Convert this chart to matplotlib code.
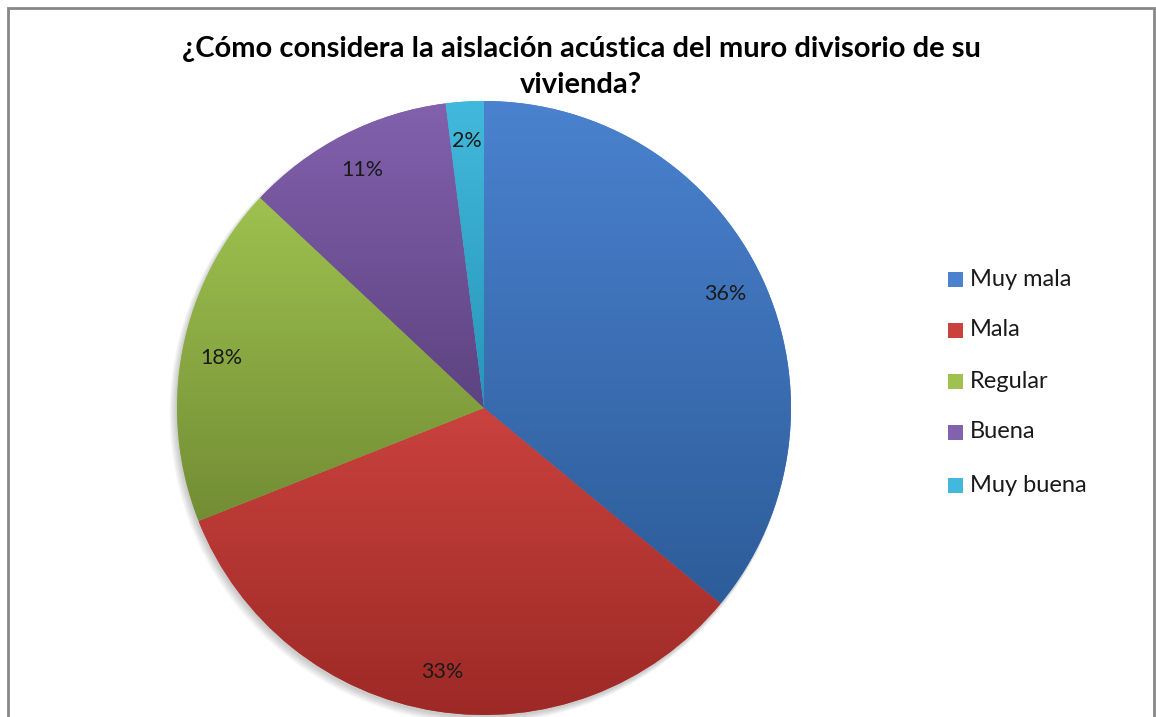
import numpy as np
import matplotlib.pyplot as plt
from matplotlib.colors import LinearSegmentedColormap
from matplotlib.patches import Rectangle, Circle

# survey answers
categorias = ["Muy mala", "Mala", "Regular", "Buena", "Muy buena"]
porcentajes = [36, 33, 18, 11, 2]
titulo = "¿Cómo considera la aislación acústica del muro divisorio de su\nvivienda?"

# light (top) and dark (bottom) shade of each slice
claros = ["#4a82cf", "#c9423e", "#9ec14f", "#8261ad", "#42b9dc"]
oscuros = ["#2d5c99", "#9d2926", "#728d34", "#5d4381", "#2796b8"]

W, H = 1156, 717
fig = plt.figure(figsize=(W / 100, H / 100), dpi=100)
fig.patch.set_facecolor("white")

# chart frame, bottom edge falls outside the image
fig.patches.append(Rectangle((8 / W, -0.05), (1154 - 8) / W, (H - 8) / H + 0.05,
                             transform=fig.transFigure, fill=False,
                             edgecolor="#878787", linewidth=2))

cx, cy, r = 484, 408, 307
ax = fig.add_axes([(cx - r) / W, (H - cy - r) / H, 2 * r / W, 2 * r / H])
ax.set_xlim(-1, 1)
ax.set_ylim(-1, 1)
ax.set_aspect("equal")
ax.axis("off")

# soft shadow below the pie
for i in range(6):
    ax.add_patch(Circle((-0.004 - i * 0.002, -0.008 - i * 0.002), 1.0 + i * 0.002,
                        facecolor="#000000", alpha=0.035, edgecolor="none",
                        zorder=0, clip_on=False))

wedges, textos, autotextos = ax.pie(porcentajes, startangle=90, counterclock=False,
                                    radius=1, autopct="%d%%", pctdistance=0.87,
                                    wedgeprops=dict(linewidth=0),
                                    textprops=dict(fontsize=15.5, family="Lato"))

# vertical gradient inside every wedge
for w, c1, c2 in zip(wedges, claros, oscuros):
    ext = w.get_path().get_extents(w.get_transform() + ax.transData.inverted())
    cmap = LinearSegmentedColormap.from_list("g", [c2, c1])
    grad = np.linspace(0, 1, 256).reshape(-1, 1)
    im = ax.imshow(grad, cmap=cmap, origin="lower", aspect="auto",
                   extent=[ext.x0, ext.x1, ext.y0, ext.y1], zorder=1)
    im.set_clip_path(w)
    w.set_facecolor(c1)
    w.set_zorder(0.9)

for t in autotextos:
    t.set_zorder(3)
    t.set_color("#1a1a1a")

ax.set_xlim(-1, 1)
ax.set_ylim(-1, 1)

fig.text(581 / W, 1 - 67 / H, titulo, ha="center", va="center", fontsize=21,
         fontweight="bold", family="Lato", linespacing=1.45)

# legend with square keys
filas = [279, 330, 381, 432, 485]
for nombre, c1, c2, y in zip(categorias, claros, oscuros, filas):
    fy = 1 - y / H
    fig.patches.append(Rectangle((948 / W, fy - 7.5 / H), 15 / W, 15 / H,
                                 transform=fig.transFigure, facecolor=c1,
                                 edgecolor="none"))
    fig.text(970 / W, fy, nombre, ha="left", va="center", fontsize=17,
             family="Lato", color="#1a1a1a")

fig.savefig("out.png", dpi=100)
